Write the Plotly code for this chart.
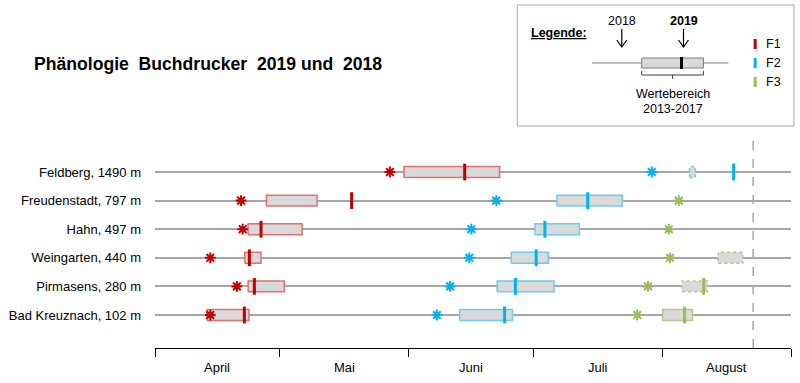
import plotly.graph_objects as go

# ---------------- data (days since 1 April) ----------------
stations = ["Feldberg, 1490 m", "Freudenstadt, 797 m", "Hahn, 497 m",
            "Weingarten, 440 m", "Pirmasens, 280 m", "Bad Kreuznach, 102 m"]
row_pos = [6, 5, 4, 3, 2, 1]

months = ["April", "Mai", "Juni", "Juli", "August"]
month_start = [0, 30, 61, 91, 122, 153]
today_mark = 143.9

# F1
f1_star_2018 = [56.5, 20.7, 21.1, 13.3, 19.7, 13.3]
f1_box_lo = [59.9, 26.8, 22.4, 21.6, 22.4, 12.5]
f1_box_hi = [82.9, 39.0, 35.4, 25.5, 31.1, 22.6]
f1_2019 = [74.5, 47.3, 25.5, 22.7, 23.9, 21.5]
f1_dotted = [False, False, False, False, False, False]

# F2
f2_star_2018 = [119.5, 82.1, 76.1, 75.6, 71.0, 67.8]
f2_box_lo = [128.6, 96.7, 91.4, 85.7, 82.3, 73.3]
f2_box_hi = [130.0, 112.4, 102.1, 94.6, 96.0, 86.0]
f2_2019 = [139.2, 104.1, 93.8, 91.7, 86.7, 84.1]
f2_dotted = [True, False, False, False, False, False]

# F3
f3_star_2018 = [None, 126.0, 123.6, 123.9, 118.6, 116.0]
f3_box_lo = [None, None, None, 135.5, 126.8, 122.1]
f3_box_hi = [None, None, None, 141.4, 132.9, 129.3]
f3_2019 = [None, None, None, None, 132.0, 127.4]
f3_dotted = [False, False, False, True, True, False]

phases = [
    dict(name="F1", star=f1_star_2018, lo=f1_box_lo, hi=f1_box_hi, mark=f1_2019, dotted=f1_dotted,
         color="#C00000", border="#E07070"),
    dict(name="F2", star=f2_star_2018, lo=f2_box_lo, hi=f2_box_hi, mark=f2_2019, dotted=f2_dotted,
         color="#00B0F0", border="#6CCDF2"),
    dict(name="F3", star=f3_star_2018, lo=f3_box_lo, hi=f3_box_hi, mark=f3_2019, dotted=f3_dotted,
         color="#9BBB59", border="#B3CB87"),
]

FONT = "Liberation Sans"
BOX_H = 0.19
Y_LO, Y_HI = -0.154, 7.364

fig = go.Figure()

# boxes (value range 2013-2017)
for ph in phases:
    for y, lo, hi, dot in zip(row_pos, ph["lo"], ph["hi"], ph["dotted"]):
        if lo is None:
            continue
        fig.add_trace(go.Scatter(
            x=[lo, hi, hi, lo, lo], y=[y - BOX_H, y - BOX_H, y + BOX_H, y + BOX_H, y - BOX_H],
            mode="lines", fill="toself", fillcolor="#D9D9D9",
            line=dict(color=ph["border"], width=1.5, dash="dot" if dot else "solid"),
            hoverinfo="skip", showlegend=False))

# 2019 marks
for ph in phases:
    xs = [v for v in ph["mark"] if v is not None]
    ys = [y for y, v in zip(row_pos, ph["mark"]) if v is not None]
    fig.add_trace(go.Scatter(x=xs, y=ys, mode="markers",
                             marker=dict(symbol="line-ns", size=12, color=ph["color"],
                                         line=dict(color=ph["color"], width=3)),
                             name=ph["name"] + " 2019", showlegend=False))

# 2018 stars
for ph in phases:
    xs = [v for v in ph["star"] if v is not None]
    ys = [y for y, v in zip(row_pos, ph["star"]) if v is not None]
    fig.add_trace(go.Scatter(x=xs, y=ys, mode="markers",
                             marker=dict(symbol="asterisk-open", size=9, color=ph["color"],
                                         line=dict(color=ph["color"], width=2)),
                             name=ph["name"] + " 2018", showlegend=False))

# --------------- layout helpers (pixel -> paper) ---------------
L, R, T, B = 152, 9, 133, 35
W, H = 800, 383
PW, PH = W - L - R, H - T - B


def PX(x):
    return (x - L) / PW


def PY(y):
    return (H - B - y) / PH


shapes = []
annotations = []

# dashed "today" line
shapes.append(dict(type="line", xref="x", yref="paper", x0=today_mark, x1=today_mark, y0=0, y1=1,
                   line=dict(color="#A6A6A6", width=1.5, dash="dash")))

# month labels
for i, m in enumerate(months):
    annotations.append(dict(x=(month_start[i] + month_start[i + 1]) / 2, y=PY(367), xref="x", yref="paper",
                            xanchor="center", yanchor="middle",
                            text=m, showarrow=False, font=dict(size=13, color="black", family=FONT)))

# title
annotations.append(dict(x=PX(28), y=PY(64), xref="paper", yref="paper", xanchor="left", yanchor="middle",
                        text="<b>Phänologie\u00a0 Buchdrucker\u00a0 2019 und\u00a0 2018</b>",
                        showarrow=False, font=dict(size=17.6, color="black", family=FONT)))

# legend frame
shapes.append(dict(type="rect", xref="paper", yref="paper", x0=PX(516), x1=PX(794), y0=PY(126), y1=PY(5),
                   line=dict(color="#A6A6A6", width=1), fillcolor="white", layer="below"))

lg_font = dict(size=12.5, color="black", family=FONT)


def ann(x, y, text, xanchor="center"):
    annotations.append(dict(x=PX(x), y=PY(y), xref="paper", yref="paper", text=text,
                            xanchor=xanchor, yanchor="middle", showarrow=False, font=lg_font))


ann(558, 33, "<b><u>Legende:</u></b>")
ann(621, 21, "2018")
ann(683, 21, "<b>2019</b>")
for ax_ in (621, 683):
    shapes.append(dict(type="line", xref="paper", yref="paper", x0=PX(ax_), x1=PX(ax_), y0=PY(29), y1=PY(47),
                       line=dict(color="black", width=1.2)))
    shapes.append(dict(type="path", xref="paper", yref="paper",
                       path=f"M {PX(ax_-5)},{PY(40)} L {PX(ax_)},{PY(47)} L {PX(ax_+5)},{PY(40)}",
                       line=dict(color="black", width=1.2)))
# legend sample line, box, mark
shapes.append(dict(type="line", xref="paper", yref="paper", x0=PX(591), x1=PX(728), y0=PY(63), y1=PY(63),
                   line=dict(color="#A6A6A6", width=1.5)))
shapes.append(dict(type="rect", xref="paper", yref="paper", x0=PX(641), x1=PX(703), y0=PY(68), y1=PY(58),
                   line=dict(color="#7F7F7F", width=1), fillcolor="#D9D9D9"))
shapes.append(dict(type="line", xref="paper", yref="paper", x0=PX(681), x1=PX(681), y0=PY(69), y1=PY(57),
                   line=dict(color="black", width=3)))
# bracket
shapes.append(dict(type="path", xref="paper", yref="paper",
                   path=f"M {PX(641)},{PY(71)} L {PX(641)},{PY(75)} L {PX(703)},{PY(75)} L {PX(703)},{PY(71)} "
                        f"M {PX(672)},{PY(75)} L {PX(672)},{PY(79)}",
                   line=dict(color="#404040", width=1)))
ann(672, 94, "Wertebereich")
ann(672, 109, "2013-2017")
# phase colour keys
for ph, yy in zip(phases, (44, 63, 82)):
    shapes.append(dict(type="line", xref="paper", yref="paper", x0=PX(755), x1=PX(755),
                       y0=PY(yy + 5), y1=PY(yy - 5), line=dict(color=ph["color"], width=3)))
    ann(764, yy, ph["name"], xanchor="left")

# legend star (drawn as a marker, outside the plot area)
x_per_px = 153 / PW
y_per_px = (Y_HI - Y_LO) / PH
fig.add_trace(go.Scatter(x=[(620 - L) * x_per_px], y=[Y_HI + (T - 63) * y_per_px], mode="markers",
                         marker=dict(symbol="asterisk-open", size=9, color="black",
                                     line=dict(color="black", width=2)),
                         cliponaxis=False, showlegend=False, hoverinfo="skip"))

fig.update_layout(
    width=W, height=H,
    margin=dict(l=L, r=R, t=T, b=B),
    paper_bgcolor="white", plot_bgcolor="white",
    showlegend=False,
    shapes=shapes, annotations=annotations,
    font=dict(family=FONT, color="black"),
    xaxis=dict(range=[0, 153], tickvals=month_start, ticktext=[""] * len(month_start),
               ticks="outside", ticklen=8, tickcolor="black", tickwidth=1,
               showline=True, linecolor="black", linewidth=1, showgrid=False, zeroline=False,
               fixedrange=True),
    yaxis=dict(range=[Y_LO, Y_HI], tickvals=row_pos, ticktext=stations,
               ticks="", showline=False, zeroline=False,
               showgrid=True, gridcolor="#A6A6A6", gridwidth=1.5,
               tickfont=dict(size=13, color="black", family=FONT), ticklabelstandoff=13,
               fixedrange=True),
)

fig.write_html("out.html", config={"displayModeBar": False},
               post_script="document.body.style.margin='0';")
